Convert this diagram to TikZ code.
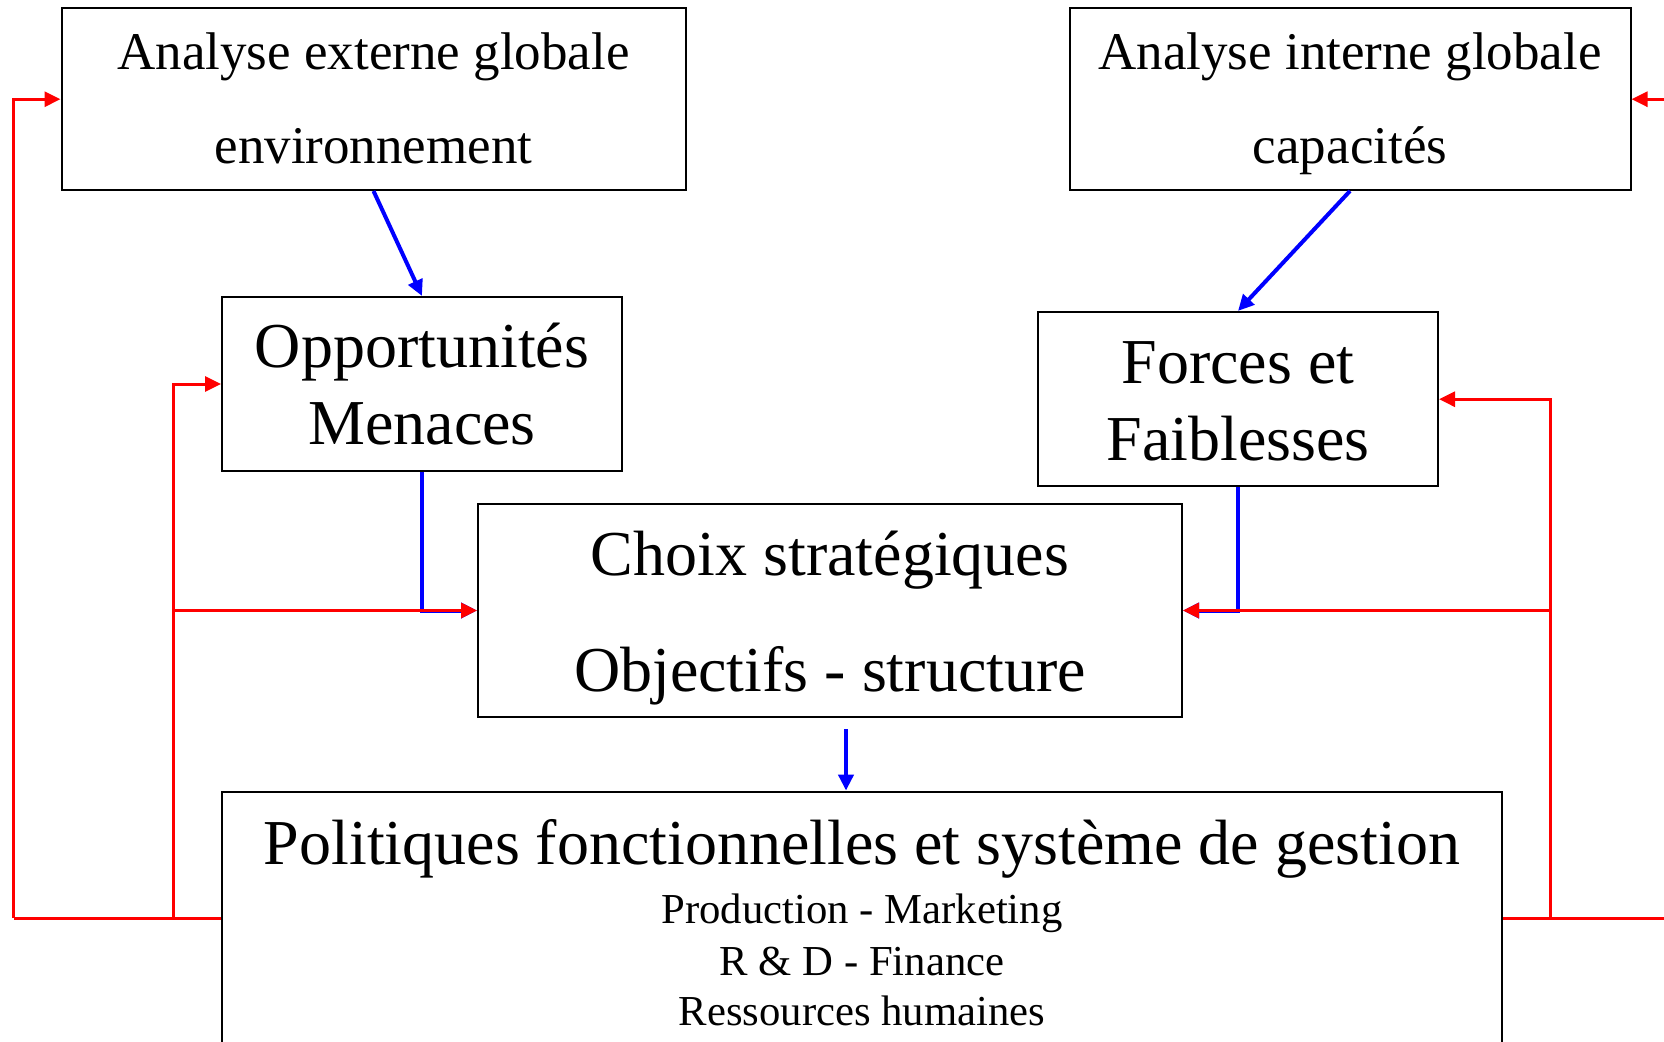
\documentclass[tikz,border=0pt]{standalone}
\usepackage{fontspec}
\setmainfont{Liberation Serif}
\usetikzlibrary{arrows.meta}
\begin{document}
\begin{tikzpicture}[x=1pt,y=-1pt,
  boxframe/.style={draw=black,line width=2pt,inner sep=0pt,rectangle},
  txt/.style={anchor=base,inner sep=0pt},
  bigtxt/.style={txt,font=\fontsize{64}{70}\selectfont},
  midtxt/.style={txt,font=\fontsize{53}{60}\selectfont},
  smalltxt/.style={txt,font=\fontsize{42.7}{48}\selectfont},
  redlink/.style={draw=red,line width=3pt,-{Triangle[length=16pt,width=15pt]}},
  redline/.style={draw=red,line width=3pt},
  bluelink/.style={draw=blue,line width=4pt,-{Triangle[length=16pt,width=15pt]}}]
\useasboundingbox (0,0) rectangle (1664,1041);
\clip (0,0) rectangle (1664,1041);
\fill[white] (0,0) rectangle (1664,1041);

% boxes
\node[boxframe,minimum width=624pt,minimum height=181.5pt] (A) at (373.5,99.2) {};
\node[boxframe,minimum width=561pt,minimum height=181.5pt] (B) at (1350,99.2) {};
\node[boxframe,minimum width=400pt,minimum height=174pt] (OM) at (422,384) {};
\node[boxframe,minimum width=400pt,minimum height=174.5pt] (FF) at (1238,399.2) {};
\node[boxframe,minimum width=704pt,minimum height=213pt] (C) at (830,610.5) {};
\node[boxframe,minimum width=1280.5pt,minimum height=320pt] (P) at (862.2,951.6) {};

% texts
\node[midtxt] (a1) at (373.5,70) {Analyse externe globale};
\node[midtxt] (a2) at (373.5,163) {environnement};
\node[midtxt] (b1) at (1350,70) {Analyse interne globale};
\node[midtxt] (b2) at (1350,163) {capacités};
\node[bigtxt] (om1) at (422,367) {Opportunités};
\node[bigtxt] (om2) at (422,444) {Menaces};
\node[bigtxt] (ff1) at (1238,383) {Forces et};
\node[bigtxt] (ff2) at (1238,460) {Faiblesses};
\node[bigtxt] (c1) at (830,575) {Choix stratégiques};
\node[bigtxt] (c2) at (830,691) {Objectifs - structure};
\node[bigtxt] (p1) at (862,864) {Politiques fonctionnelles et système de gestion};
\node[smalltxt] (p2) at (862,923.5) {Production - Marketing};
\node[smalltxt] (p3) at (862,975) {R \& D - Finance};
\node[smalltxt] (p4) at (862,1025) {Ressources humaines};

% junction points of the feedback loops
\coordinate (jl) at (173,918);
\coordinate (jlo) at (13.5,918);
\coordinate (jr) at (1550,918);
\coordinate (jro) at (1690,918);

% blue flow
\draw[bluelink] (A.south) -- (OM.north);
\draw[bluelink] (B.south) -- (FF.north);
\draw[bluelink] (OM.south) |- (C.west);
\draw[bluelink] (FF.south) |- (C.east);
\draw[bluelink] ([shift={(16,11)}]C.south) -- ([xshift=16pt]C.south |- P.north);

% red feedback
\draw[redline] (P.west |- jl) -- (jlo);
\draw[redlink] (jlo) |- (A.west);
\draw[redlink] (jl) |- (OM.west);
\draw[redlink] (jl |- C.west) -- (C.west);
\draw[redline] (P.east |- jr) -- (jro);
\draw[redlink] (jro) |- (B.east);
\draw[redlink] (jr) |- (FF.east);
\draw[redlink] (jr |- C.east) -- (C.east);
\end{tikzpicture}
\end{document}
